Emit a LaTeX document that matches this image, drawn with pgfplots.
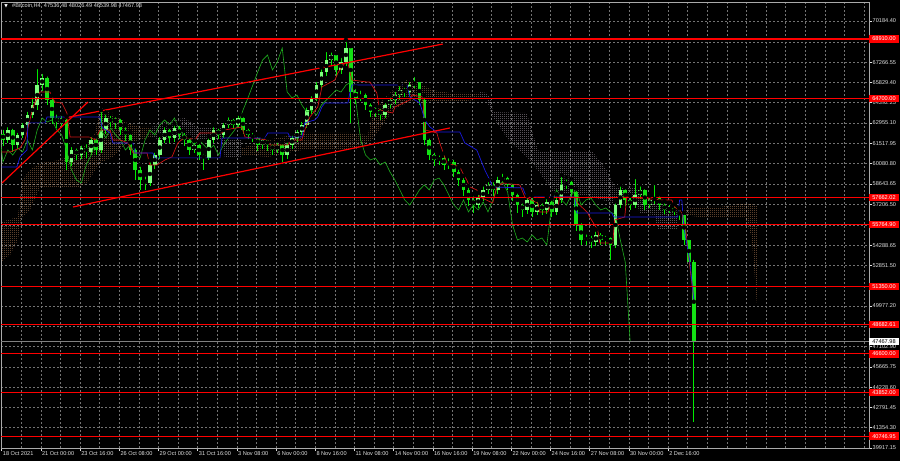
\documentclass[border=0pt]{standalone}
\usepackage{fontspec}
\setmainfont{Liberation Sans}
\newfontfamily\symfont{DejaVu Sans}
\usepackage{pgfplots}
\usepackage{pgfplotstable}
\pgfplotsset{compat=1.18}
\usetikzlibrary{patterns}
\pgfdeclarepatternformonly{mtdots}{\pgfpointorigin}{\pgfqpoint{2pt}{2pt}}{\pgfqpoint{2pt}{2pt}}{\pgfpathrectangle{\pgfpointorigin}{\pgfqpoint{1pt}{1pt}}\pgfusepath{fill}}

\definecolor{sandy}{RGB}{210,148,100}
\definecolor{thist}{RGB}{205,190,205}
\definecolor{wick}{RGB}{0,235,0}
\definecolor{bear}{RGB}{20,225,20}
\definecolor{bull}{RGB}{125,255,125}
\definecolor{chik}{RGB}{30,175,30}
\definecolor{tenkan}{RGB}{205,20,20}
\definecolor{kijun}{RGB}{25,25,225}
\definecolor{gridc}{RGB}{115,115,115}
\definecolor{labc}{RGB}{225,225,225}
\definecolor{frame}{RGB}{170,170,170}
\newcommand\lab{\fontsize{5.6}{6}\selectfont}

% H4 candles, two bars per row: bar index, open, high, low, close
\pgfplotstableread{
x o h l c
0.5 62200 62600 61300 61750
2.5 61750 62800 61500 62460
4.5 62460 62700 60900 61390
6.5 61390 62400 61100 62100
8.5 62100 63100 61900 62810
10.5 62810 63900 62600 63520
12.5 63520 64900 63300 64230
14.5 64230 66920 63900 65640
16.5 65640 66570 65200 66140
18.5 66140 66400 64200 64580
20.5 64580 64900 62900 63310
22.5 63310 63700 62600 63020
24.5 63020 63600 62700 63170
26.5 63170 63400 59620 60190
28.5 60190 61400 59900 61040
30.5 61040 61300 60300 60680
32.5 60680 61500 60400 61180
34.5 61180 61600 60500 60900
36.5 60900 62100 60700 61750
38.5 61750 62000 60700 61040
40.5 61040 63870 60800 62460
42.5 62460 63700 62200 63310
44.5 63310 63600 62700 63020
46.5 63020 63500 62500 63170
48.5 63170 63400 62100 62460
50.5 62460 62800 61700 62100
52.5 62100 62300 60700 61040
54.5 61040 61300 58900 59620
56.5 59620 60000 58200 58910
58.5 58910 59300 58210 58700
60.5 58700 60300 58500 59980
62.5 59980 61000 59700 60680
64.5 60680 62100 60400 61750
66.5 61750 62800 61500 62460
68.5 62460 62700 61500 61890
70.5 61890 62900 61600 62600
72.5 62600 62900 61800 62100
74.5 62100 62400 61300 61750
76.5 61750 62000 60700 61040
78.5 61040 61700 60800 61390
80.5 61390 61600 60300 60680
82.5 60680 60900 59620 60470
84.5 60470 62000 60300 61750
86.5 61750 62800 61500 62460
88.5 62460 62700 61800 62100
90.5 62100 63100 61900 62810
92.5 62810 63500 62600 63170
94.5 63170 63400 62500 62810
96.5 62810 63600 62600 63310
98.5 63310 63500 62200 62460
100.5 62460 62700 61800 62100
102.5 62100 62400 61600 61890
104.5 61890 62100 61000 61390
106.5 61390 62000 61100 61750
108.5 61750 61900 61000 61390
110.5 61390 61600 60700 61040
112.5 61040 61700 60800 61390
114.5 61390 61600 60190 60680
116.5 60680 61700 60400 61390
118.5 61390 62200 61100 61890
120.5 61890 62600 61600 62320
122.5 62320 63170 62100 62810
124.5 62810 64200 62600 63870
126.5 63870 65000 63600 64730
128.5 64730 66000 64500 65640
130.5 65640 66900 65400 66570
132.5 66570 68130 66300 67420
134.5 67420 68100 67000 67770
136.5 67770 67900 66300 66710
138.5 66710 67700 66400 67280
140.5 67280 68840 67000 68270
142.5 68270 68400 62960 65150
144.5 65150 65500 64300 64730
146.5 64730 65400 64500 64940
148.5 64940 65200 63900 64230
150.5 64230 64500 63400 63730
152.5 63730 64200 63400 63870
154.5 63870 64100 63200 63520
156.5 63520 64500 63300 64230
158.5 64230 64900 64000 64580
160.5 64580 65300 64300 64940
162.5 64940 65700 64600 65290
164.5 65290 65600 64800 65150
166.5 65150 66000 64900 65640
168.5 65640 66350 65400 65860
170.5 65860 66000 64200 64580
172.5 64580 64900 61400 61750
174.5 61750 62000 60300 60680
176.5 60680 61000 59900 60330
178.5 60330 60800 60000 60470
180.5 60470 60800 59600 59980
182.5 59980 60600 59700 60190
184.5 60190 60500 59100 59480
186.5 59480 59800 58500 58910
188.5 58910 59200 57800 58210
190.5 58210 58500 57100 57500
192.5 57500 57900 56600 57140
194.5 57140 58000 56900 57640
196.5 57640 58600 57400 58210
198.5 58210 58900 57900 58560
200.5 58560 58900 57800 58210
202.5 58210 59300 57900 58910
204.5 58910 59500 58700 59050
206.5 59050 59300 58200 58560
208.5 58560 58800 57400 57850
210.5 57850 58100 56600 57140
212.5 57140 57400 56300 56790
214.5 56790 57800 56500 57500
216.5 57500 57800 56300 56650
218.5 56650 57500 56400 57140
220.5 57140 57400 56400 56790
222.5 56790 57700 56500 57360
224.5 57360 57600 56300 56650
226.5 56650 57900 56400 57500
228.5 57500 59270 57300 58560
230.5 58560 59100 58300 58770
232.5 58770 59000 57700 58060
234.5 58060 58300 55300 55730
236.5 55730 56000 54300 54660
238.5 54660 55200 54300 54800
240.5 54800 55100 54100 54520
242.5 54520 55400 54200 55020
244.5 55020 55300 54300 54660
246.5 54660 55100 54300 54800
248.5 54800 55000 53240 54310
250.5 54310 57400 54100 57140
252.5 57140 58600 56900 58210
254.5 58210 58400 57100 57500
256.5 57500 57800 56800 57140
258.5 57140 59120 56900 57850
260.5 57850 58600 57600 58210
262.5 58210 58400 56800 57140
264.5 57140 57800 56900 57500
266.5 57500 58700 57200 57640
268.5 57640 57900 56800 57140
270.5 57140 57400 56500 56790
272.5 56790 57300 56600 56930
274.5 56930 57200 56400 56650
276.5 56650 56900 56100 56440
278.5 56440 56600 54300 54660
280.5 54660 54800 52800 53100
282.5 53100 53400 41760 47470
}\candles

\begin{document}
\begin{tikzpicture}
\useasboundingbox (0,0) rectangle (900pt,461pt);
\fill[black] (0,0) rectangle (900pt,461pt);
\begin{axis}[
  at={(1pt,13pt)}, anchor=south west,
  scale only axis, width=868pt, height=446pt,
  xmin=-0.29, xmax=354, ymin=39917.15, ymax=71529.6,
  enlargelimits=false,
  axis line style={draw=frame, line width=0.6pt},
  tick align=outside, major tick length=3pt, minor tick length=0pt,
  tick style={draw=labc, line width=0.5pt},
  xtick pos=left, ytick pos=right, yticklabel pos=right,
  xtick={0,16,...,272},
  xticklabels={18 Oct 2021,21 Oct 00:00,23 Oct 16:00,26 Oct 08:00,29 Oct 00:00,31 Oct 16:00,3 Nov 08:00,6 Nov 00:00,8 Nov 16:00,11 Nov 08:00,14 Nov 00:00,16 Nov 16:00,19 Nov 08:00,22 Nov 00:00,24 Nov 16:00,27 Nov 08:00,30 Nov 00:00,2 Dec 16:00},
  minor xtick={8,16,...,352},
  ytick={39917.15,41354.30,42791.45,44228.60,45665.75,47102.90,48540.05,49977.20,51414.35,52851.50,54288.65,55725.80,57206.50,58643.65,60080.80,61517.95,62955.10,64392.25,65829.40,67266.55,68703.70,70184.40},
  yticklabels={39917.15,41354.30,42791.45,44228.60,45665.75,47102.90,{},49977.20,{},52851.50,54288.65,{},57206.50,58643.65,60080.80,61517.95,62955.10,64392.25,65829.40,67266.55,{},70184.40},
  scaled y ticks=false,
  grid=both,
  major grid style={draw=gridc, dash pattern=on 2pt off 2pt, line width=0.5pt},
  minor grid style={draw=gridc, dash pattern=on 2pt off 2pt, line width=0.5pt},
  xticklabel style={font=\lab, text=labc, anchor=north west, inner sep=0.5pt, xshift=0.5pt},
  yticklabel style={font=\lab, text=labc, anchor=west, inner sep=0.5pt},
]
% Ichimoku cloud
\addplot[draw=none, pattern=mtdots, pattern color=sandy] coordinates {
 (-0.3,55940)(6.6,56290)(8.3,58910)(11.5,59620)(15.6,60120)(23.8,60330)(32,61040)(34.8,61540)(38.1,62250)(40.1,64090)(45.4,63660)(51.1,62960)(56.4,62670)(61.3,62670)
 (61.3,61960)(56.4,61750)(51.1,61540)(45.4,60550)(40.1,60120)(34.8,58700)(32,58420)(23.8,58420)(15.6,58350)(11.5,56790)(8.3,56290)(6.6,54660)(3.4,53600)(-0.3,53100)};
\addplot[draw=none, pattern=mtdots, pattern color=thist] coordinates {
 (61.3,62670)(64.6,62960)(70.7,63170)(74.8,63310)(80.1,62600)(89.9,62600)(91.1,61750)(98,61750)
 (98,60480)(91.1,60480)(89.9,61750)(80.1,61750)(74.8,61750)(70.7,61960)(64.6,61750)(61.3,61960)};
\addplot[draw=none, pattern=mtdots, pattern color=sandy] coordinates {
 (98,61180)(108.6,61750)(122.5,62250)(142.1,62250)(149.5,62100)(151.1,63520)(155.6,64590)(159.6,65290)(165.4,66000)(169.4,65860)(176,65290)(182.9,65080)(195.2,65080)
 (195.2,64590)(182.9,64440)(176,64440)(169.4,64590)(165.4,64370)(159.6,63880)(155.6,62810)(151.1,61750)(144.1,61040)(122.5,61040)(108.6,60550)(98,60690)};
\addplot[draw=none, pattern=mtdots, pattern color=thist] coordinates {
 (195.2,65150)(198,65080)(200,64590)(200.4,63730)(214.3,63660)(218.8,61040)(219.6,60900)(241.2,60900)(247,59620)(249.4,58700)(250.2,58420)(258.4,58420)(260.4,57710)(267.8,57140)(275.9,56790)
 (275.9,55370)(267.8,55370)(266.5,56430)(260.4,56580)(258.4,57710)(250.2,57710)(249.4,57280)(241.2,57710)(225,58060)(218.8,59620)(214.3,60550)(207.4,61610)(200.4,63380)(198,64590)(195.2,64590)};
\addplot[draw=none, pattern=mtdots, pattern color=sandy] coordinates {
 (275.9,56790)(284.9,57000)(293.1,57000)(303.3,57280)(308.2,57140)
 (308.2,50200)(306.1,54870)(303.3,56290)(293.1,56290)(284.9,56290)(275.9,56500)};
% candles: wicks, then bearish and bullish bodies
\addplot[only marks, mark=none, error bars/.cd, y dir=minus, y explicit, error mark=none,
  error bar style={draw=wick, line width=0.8pt}]
  table[x=x, y=h, y error minus expr=\thisrow{h}-\thisrow{l}] {\candles};
\addplot[only marks, mark=none, restrict expr to domain={\thisrow{o}-\thisrow{c}}{0:100000},
  error bars/.cd, y dir=both, y explicit, error mark=none,
  error bar style={draw=bear, line width=3.6pt}]
  table[x=x, y expr=(\thisrow{o}+\thisrow{c})/2, y error expr={max(abs(\thisrow{o}-\thisrow{c})/2,60)}] {\candles};
\addplot[only marks, mark=none, restrict expr to domain={\thisrow{c}-\thisrow{o}}{0.5:100000},
  error bars/.cd, y dir=both, y explicit, error mark=none,
  error bar style={draw=bull, line width=3.6pt}]
  table[x=x, y expr=(\thisrow{o}+\thisrow{c})/2, y error expr={max(abs(\thisrow{o}-\thisrow{c})/2,60)}] {\candles};
% Chikou span (close shifted 26 bars back)
\addplot[draw=chik, line width=0.6pt] table[x expr=\thisrow{x}-26, y=c] {\candles};
% Tenkan-sen
\addplot[draw=tenkan, line width=0.7pt] coordinates {
 (0,60900)(3.4,60900)(7.5,61180)(9.5,61750)(12.8,64090)(15.6,65150)(19.7,65150)(21.7,64440)(24.6,64370)(26.6,63660)(27.9,61960)(36,61960)(38.1,61750)(40.1,62460)(44.2,62460)(45.4,61750)(48.3,61750)(51.5,61540)(53.6,60830)(59.3,60830)(60.5,59980)(63.4,59980)(66.6,60330)(69.5,60550)(71.9,61540)(74.8,61960)(78.9,61750)(80.9,62250)(89.9,62250)(91.1,62460)(98,62670)(99.3,61960)(108.6,61750)(109.5,61400)(116.8,61400)(118.4,61750)(122.5,61750)(123.7,62460)(125.8,63380)(129,64090)(130.7,65510)(136,66000)(137.2,66500)(140.1,67210)(141.3,67210)(142.9,66000)(149.1,65860)(150.3,65860)(153.1,65080)(154.3,63880)(159.6,63660)(160.5,64090)(166.6,64590)(167.4,64940)(171.9,64800)(172.7,62460)(177.6,62250)(178.8,61540)(181.7,60120)(187,59840)(188.2,59410)(189.8,58910)(191.1,58420)(193.9,58210)(195.2,57710)(200.4,57280)(202.1,58420)(204.5,58700)(211.5,58560)(213.5,57710)(218.8,57280)(219.6,56650)(222.9,56650)(223.7,57000)(227,57000)(227.8,57710)(233.9,57710)(235.1,57280)(239.2,56580)(240,56290)(243.3,55370)(244.1,54450)(249.4,54450)(250.2,56080)(254.3,56290)(255.1,57710)(269.4,57500)(273.5,57500)(274.7,57000)(277.6,56580)(279.2,55370)(280.8,52890)(282.5,50410)};
% Kijun-sen
\addplot[draw=kijun, line width=0.7pt] coordinates {
 (0,59840)(6.2,59840)(7.5,60550)(10.3,61040)(10.7,62960)(17.7,62960)(18.5,63380)(40.1,63380)(40.9,62670)(44.2,62250)(45.4,61540)(53.6,61540)(54.4,60830)(61.7,60830)(62.5,60480)(89.1,60480)(89.9,61890)(107.4,61890)(108.6,62250)(116.8,62250)(117.6,61960)(122.5,61960)(123.7,62960)(127.8,63170)(129,63380)(130.7,64090)(131.9,64370)(141.3,64370)(142.1,65080)(142.9,65650)(165.4,65650)(166.6,64800)(170.7,64370)(172.7,63170)(174.8,62670)(177.6,62320)(187,62320)(189,61540)(193.9,61040)(195.2,60480)(197.2,59620)(199.2,58910)(200.4,58420)(212.7,58350)(213.5,57990)(214.3,57710)(233.9,57710)(234.7,56580)(249,56580)(249.8,56290)(275.9,56290)(276.7,57500)(277.6,57500)(278.4,55580)(280.8,53240)(282.5,50410)};
% horizontal levels
\foreach \v in {68910,64700,57662.02,55764.9,51350,48682.61,46600,43852,40746.95}{
  \edef\temp{\noexpand\addplot[draw=red, line width=1.3pt] coordinates {(-0.29,\v) (354,\v)};}\temp
}
\addplot[draw=gray, line width=0.5pt] coordinates {(-0.29,47467.98) (354,47467.98)};
% channel and trend lines
\addplot[draw=red, line width=1.2pt] coordinates {(0.1,58700) (35.2,64440)};
\addplot[draw=red, line width=1.2pt] coordinates {(25.8,63310) (180,68550)};
\addplot[draw=red, line width=1.2pt] coordinates {(29.1,57000) (182.9,62600)};
% anchors for right-hand price boxes
\coordinate (r1) at (axis cs:354,68910);
\coordinate (r2) at (axis cs:354,64700);
\coordinate (r3) at (axis cs:354,57662.02);
\coordinate (r4) at (axis cs:354,55764.9);
\coordinate (r5) at (axis cs:354,51350);
\coordinate (r6) at (axis cs:354,48682.61);
\coordinate (r7) at (axis cs:354,46600);
\coordinate (r8) at (axis cs:354,43852);
\coordinate (r9) at (axis cs:354,40746.95);
\coordinate (cp) at (axis cs:354,47467.98);
\end{axis}
\tikzset{rl/.style={fill=red, text=white, font=\lab, inner sep=0.4pt, anchor=west, minimum width=29.5pt, minimum height=7.6pt}}
\node[rl] at (r1) {68910.00};
\node[rl] at (r2) {64700.00};
\node[rl] at (r3) {57662.02};
\node[rl] at (r4) {55764.90};
\node[rl] at (r5) {51350.00};
\node[rl] at (r6) {48682.61};
\node[rl] at (r7) {46600.00};
\node[rl] at (r8) {43852.00};
\node[rl] at (r9) {40746.95};
\node[rl, fill=white, text=black] at (cp) {47467.98};
\node[text=white, font=\symfont\fontsize{4.5}{5}\selectfont, inner sep=0pt] at (6pt,455pt) {▼};
\node[anchor=west, text=labc, font=\lab, inner sep=0pt] at (12pt,455pt) {\#Bitcoin,H4 \ 47536.48 48026.49 46539.98 47467.98};
\end{tikzpicture}
\end{document}
